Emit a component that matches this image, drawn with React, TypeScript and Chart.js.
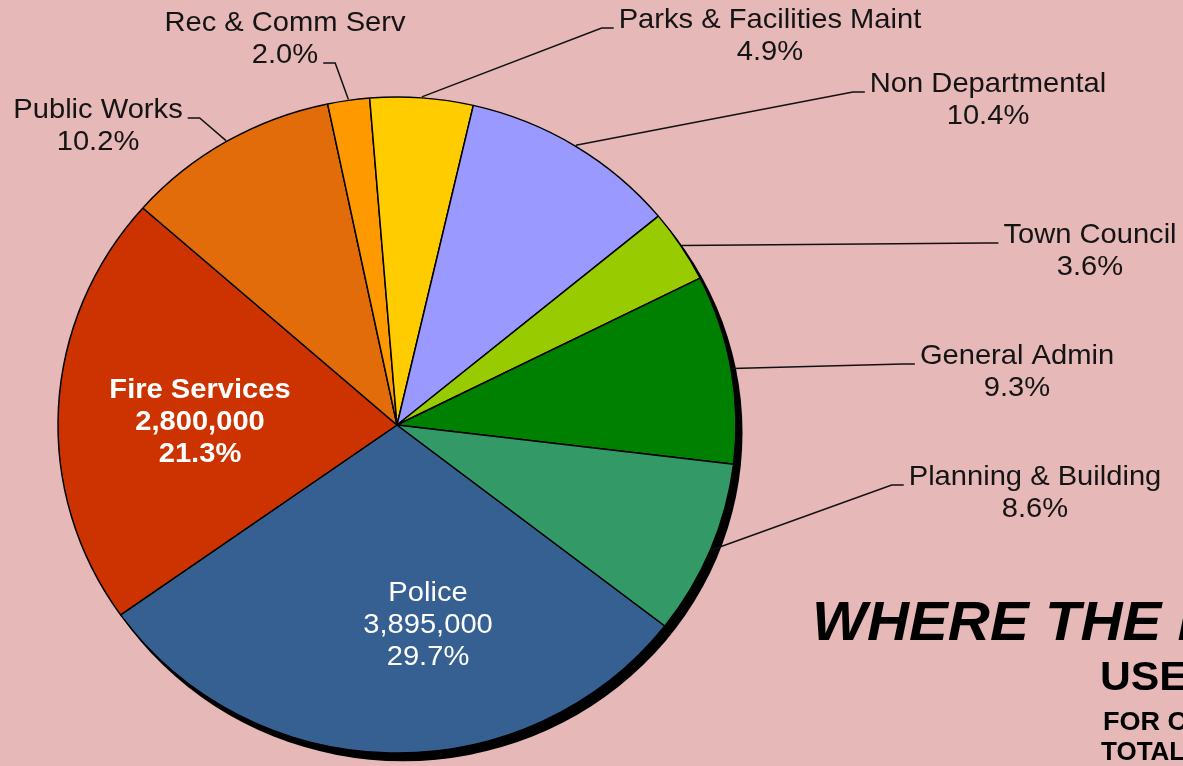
import { useEffect, useRef } from "react";
import { Chart, registerables } from "chart.js";

Chart.register(...registerables);

// ---- data ----
const categories = [
  "Police",
  "Fire Services",
  "Public Works",
  "Rec & Comm Serv",
  "Parks & Facilities Maint",
  "Non Departmental",
  "Town Council",
  "General Admin",
  "Planning & Building",
];
const amounts = [3895000, 2800000, 1340000, 262000, 643000, 1365000, 472000, 1220000, 1128000];
const sliceColors = [
  "#356091",
  "#CC3300",
  "#E36C0A",
  "#FF9900",
  "#FFCC00",
  "#9999FF",
  "#99CC00",
  "#008000",
  "#339966",
];
const titleLines = ["WHERE THE MONEY GOES", "USES", "FOR CURRENT YEAR", "TOTAL BUDGET"];

// ---- layout (label offsets from pie centre, px) ----
const labelLayout = [
  { inside: true, dx: 31, dy: 168, bold: false },
  { inside: true, dx: -197, dy: -35, bold: true },
  { dx: -299, dy: -315, side: "right", line: 0 },
  { dx: -112, dy: -402, side: "right", line: 1 },
  { dx: 373, dy: -405, side: "left", line: 0 },
  { dx: 591, dy: -341, side: "left", line: 0 },
  { dx: 693, dy: -190, side: "left", line: 0 },
  { dx: 620, dy: -69, side: "left", line: 0 },
  { dx: 638, dy: 52, side: "left", line: 0 },
];

const SY = 0.9676; // vertical squash of the pie
const SX = 1.04; // horizontal stretch of text
const FONT = '"Liberation Sans", Arial, sans-serif';
const LINE_H = 32;

function stretchedText(ctx: CanvasRenderingContext2D, t: string, x: number, y: number) {
  ctx.save();
  ctx.translate(x, y);
  ctx.scale(SX, 1);
  ctx.fillText(t, 0, 0);
  ctx.restore();
}

const decorPlugin = {
  id: "decor",
  beforeDatasetsDraw(chart: any) {
    const arc = chart.getDatasetMeta(0).data[0];
    if (!arc) return;
    const { x: cx, y: cy, outerRadius: R } = arc;
    const ctx = chart.ctx;
    ctx.save();
    ctx.translate(cx, cy);
    ctx.scale(1, SY);
    ctx.translate(-cx, -cy);
    ctx.beginPath();
    ctx.arc(cx + 6, cy + 8, R + 0.5, 0, Math.PI * 2);
    ctx.fillStyle = "#000";
    ctx.fill();
  },
  afterDatasetsDraw(chart: any) {
    chart.ctx.restore();
  },
  afterDraw(chart: any) {
    const ctx = chart.ctx;
    const meta = chart.getDatasetMeta(0);
    const total = amounts.reduce((a, b) => a + b, 0);
    meta.data.forEach((arc: any, i: number) => {
      const lay: any = labelLayout[i];
      const cx = arc.x;
      const cy = arc.y;
      const pct = ((amounts[i] / total) * 100).toFixed(1) + "%";
      const tx = cx + lay.dx;
      const ty = cy + lay.dy;
      ctx.save();
      ctx.textAlign = "center";
      ctx.textBaseline = "middle";
      if (lay.inside) {
        ctx.fillStyle = "#FFFFFF";
        ctx.font = `${lay.bold ? "bold " : ""}28px ${FONT}`;
        const lines = [categories[i], amounts[i].toLocaleString("en-US"), pct];
        lines.forEach((t, k) => stretchedText(ctx, t, tx, ty + k * LINE_H));
      } else {
        ctx.fillStyle = "#141414";
        ctx.font = `28px ${FONT}`;
        const lines = [categories[i], pct];
        lines.forEach((t, k) => stretchedText(ctx, t, tx, ty + k * LINE_H));
        // leader line
        const lt = lines[lay.line];
        const w = ctx.measureText(lt).width * SX;
        const ly = ty + lay.line * LINE_H + 8;
        let ax: number, ex: number;
        if (lay.side === "left") {
          ax = tx - w / 2 - 5;
          ex = ax - 12;
        } else {
          ax = tx + w / 2 + 5;
          ex = ax + 12;
        }
        const mid = (arc.startAngle + arc.endAngle) / 2;
        const r = arc.outerRadius + 1;
        const px = cx + r * Math.cos(mid);
        const py = cy + r * SY * Math.sin(mid);
        ctx.beginPath();
        ctx.moveTo(px, py);
        ctx.lineTo(ex, ly);
        ctx.lineTo(ax, ly);
        ctx.strokeStyle = "#111";
        ctx.lineWidth = 1.5;
        ctx.stroke();
      }
      ctx.restore();
    });

    // title block (partly cut off by the right edge)
    ctx.save();
    ctx.fillStyle = "#000";
    ctx.textAlign = "left";
    ctx.textBaseline = "alphabetic";
    ctx.font = `italic bold 56px ${FONT}`;
    stretchedText(ctx, titleLines[0], 812, 640);
    ctx.font = `bold 41px ${FONT}`;
    stretchedText(ctx, titleLines[1], 1100, 690);
    ctx.font = `bold 26px ${FONT}`;
    stretchedText(ctx, titleLines[2], 1103, 730);
    ctx.font = `bold 25px ${FONT}`;
    stretchedText(ctx, titleLines[3], 1101, 760);
    ctx.restore();
  },
};

export default function App() {
  const ref = useRef<HTMLCanvasElement>(null);
  useEffect(() => {
    if (!ref.current) return;
    const chart = new Chart(ref.current, {
      type: "pie",
      data: {
        labels: categories,
        datasets: [
          {
            data: amounts,
            backgroundColor: sliceColors,
            borderColor: "#000",
            borderWidth: 1.5,
            radius: 339,
          } as any,
        ],
      },
      options: {
        responsive: false,
        animation: false,
        events: [],
        rotation: 127.8,
        layout: { padding: { left: 0, right: 389, top: 84, bottom: 0 } },
        plugins: {
          legend: { display: false },
          tooltip: { enabled: false },
        },
      } as any,
      plugins: [decorPlugin],
    });
    return () => chart.destroy();
  }, []);
  return (
    <div
      style={{
        position: "fixed",
        left: 0,
        top: 0,
        width: 1183,
        height: 766,
        overflow: "hidden",
        background: "#E6B8B7",
      }}
    >
      <canvas ref={ref} width={1183} height={766} style={{ display: "block", width: 1183, height: 766 }} />
    </div>
  );
}
